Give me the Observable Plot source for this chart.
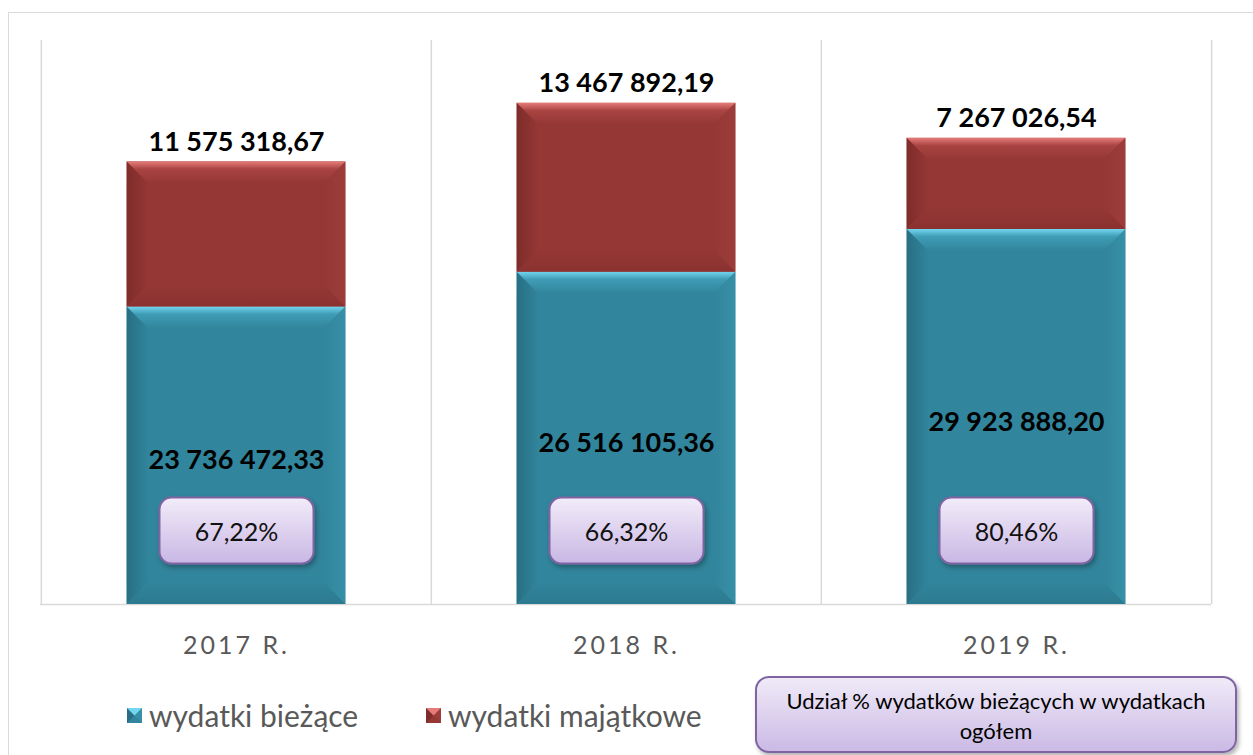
<!DOCTYPE html>
<html>
<head>
<meta charset="utf-8">
<script src="https://cdn.jsdelivr.net/npm/d3@7"></script>
<script src="https://cdn.jsdelivr.net/npm/@observablehq/plot@0.6"></script>
<style>
  body { margin: 0; background: #fff; font-family: Lato, "Open Sans", sans-serif; }
  #wrap { position: relative; width: 1253px; height: 755px; overflow: hidden; background: #fff; }
  #chart { position: absolute; left: 0; top: 0; }
  #frame { position: absolute; left: 8px; top: 12px; right: -10px; bottom: -10px;
           border-left: 1.5px solid #d9d9d9; border-top: 1.5px solid #d9d9d9; pointer-events: none; }
  .item { position: absolute; top: 699px; height: 32px; display: flex; align-items: center;
          gap: 7px; font-size: 30px; font-weight: 400; color: #595959; white-space: nowrap; }
  #note { position: absolute; left: 755px; top: 676px; width: 482px; height: 77px; box-sizing: border-box;
          border: 2px solid #8064a2; border-radius: 14px;
          background: linear-gradient(#f0eaf8, #cbbae5);
          box-shadow: 2px 3px 4px rgba(0,0,0,0.3);
          text-align: center; font-size: 22px; font-weight: 400; line-height: 30px; padding-top: 8px; color: #000; }
</style>
</head>
<body>
<div id="wrap">
  <div id="chart"></div>
  <div id="legend"></div>
  <div id="note">Udział % wydatków bieżących w wydatkach<br>ogółem</div>
  <div id="frame"></div>
</div>
<script>
// ---- data ----
const years = ["2017 R.", "2018 R.", "2019 R."];
const biezace = [23736472.33, 26516105.36, 29923888.20];
const majatkowe = [11575318.67, 13467892.19, 7267026.54];
const udzial = ["67,22%", "66,32%", "80,46%"];
const seriesNames = ["wydatki bieżące", "wydatki majątkowe"];
const seriesColors = ["#31859c", "#953735"];

const rows = [];
years.forEach((y, i) => {
  rows.push({year: y, series: seriesNames[0], value: biezace[i]});
  rows.push({year: y, series: seriesNames[1], value: majatkowe[i]});
});
const totals = years.map((y, i) => ({
  year: y, total: biezace[i] + majatkowe[i], mid: biezace[i] / 2,
  b: biezace[i], m: majatkowe[i], pct: udzial[i]
}));

const fmt = d3.formatLocale({decimal: ",", thousands: " ", grouping: [3], currency: ["", ""]}).format(",.2f");

const W = 1253, H = 680, mL = 40, mR = 42, mT = 40, mB = 76;
const bw = (W - mL - mR) / years.length;
const barW = 219;
const inset = (bw - barW) / 2;

const plot = Plot.plot({
  width: W, height: H,
  marginLeft: mL, marginRight: mR, marginTop: mT, marginBottom: mB,
  style: {background: "transparent", fontFamily: "Lato, 'Open Sans', sans-serif", overflow: "visible"},
  x: {type: "band", domain: years, padding: 0, label: null},
  y: {domain: [0, 45e6], axis: null},
  color: {domain: seriesNames, range: seriesColors},
  marks: [
    Plot.ruleX(years, {x: d => d, dx: -bw / 2, stroke: "#d9d9d9", strokeWidth: 1.5}),
    Plot.ruleX([years[years.length - 1]], {x: d => d, dx: bw / 2, stroke: "#d9d9d9", strokeWidth: 1.5}),
    Plot.ruleY([0], {stroke: "#d9d9d9", strokeWidth: 1.5}),
    Plot.barY(rows, {x: "year", y: "value", fill: "series", insetLeft: inset, insetRight: inset}),
    Plot.axisX({tickSize: 0, tickPadding: 32, fontSize: 25, color: "#595959", label: null}),
    Plot.text(totals, {x: "year", y: "total", text: d => fmt(d.m), dy: -20, fontSize: 27, fontWeight: "bold", fill: "#000"}),
    Plot.text(totals, {x: "year", y: "mid", text: d => fmt(d.b), dy: 5, fontSize: 27, fontWeight: "bold", fill: "#000"}),
    Plot.text(totals, {x: "year", y: 0, dy: -72, text: "pct", fontSize: 25, fill: "#111"})
  ]
});

document.getElementById("chart").appendChild(plot);
const svg = d3.select(plot);

// letter spacing on category labels
svg.selectAll('g[aria-label^="x-axis"]').style("letter-spacing", "3px");

// defs: gradients & shadow
const defs = svg.insert("defs", ":first-child");
function lin(id, stops, horizontal) {
  const g = defs.append("linearGradient").attr("id", id)
    .attr("x1", 0).attr("y1", 0).attr("x2", horizontal ? 1 : 0).attr("y2", horizontal ? 0 : 1);
  stops.forEach(([o, c]) => g.append("stop").attr("offset", o).attr("stop-color", c));
}
const pal = {
  r: {base: "#953735", topL: "#e67b79", topM: "#a84442", left: "#7e2c2b", right: "#9c3d3b", bot: "#8a3230"},
  b: {base: "#31859c", topL: "#74d6f0", topM: "#3f9cb5", left: "#286f83", right: "#3790a7", bot: "#2c7a8f"}
};
for (const k in pal) {
  const p = pal[k];
  lin("top-" + k, [[0, p.topL], [0.35, p.topM], [1, p.base]], false);
  lin("bot-" + k, [[0, p.base], [1, p.bot]], false);
  lin("left-" + k, [[0, p.left], [1, p.base]], true);
  lin("right-" + k, [[0, p.base], [1, p.right]], true);
}
lin("boxGrad", [[0, "#f2ecf9"], [1, "#c9b7e4"]], false);
const f = defs.append("filter").attr("id", "shadow").attr("x", "-20%").attr("y", "-20%").attr("width", "150%").attr("height", "170%");
f.append("feDropShadow").attr("dx", 2).attr("dy", 3).attr("stdDeviation", 2.5).attr("flood-color", "#000").attr("flood-opacity", 0.3);

// bevel decoration derived from the bar mark geometry
const colorSet = new Set(seriesColors);
const barRects = svg.selectAll("rect").filter(function () {
  return colorSet.has((this.getAttribute("fill") || "").toLowerCase());
});
const barG = barRects.size() ? barRects.node().parentNode : null;
if (barG) {
  const bev = d3.create("svg:g");
  barG.parentNode.insertBefore(bev.node(), barG.nextSibling);
  barRects.each(function () {
    const x = +this.getAttribute("x"), y = +this.getAttribute("y");
    const w = +this.getAttribute("width"), h = +this.getAttribute("height");
    const k = this.getAttribute("fill").toLowerCase() === seriesColors[0] ? "b" : "r";
    const b = Math.min(22, h / 2, w / 2);
    const polys = [
      ["left", [[x, y], [x + b, y + b], [x + b, y + h - b], [x, y + h]]],
      ["right", [[x + w, y], [x + w - b, y + b], [x + w - b, y + h - b], [x + w, y + h]]],
      ["bot", [[x, y + h], [x + w, y + h], [x + w - b, y + h - b], [x + b, y + h - b]]],
      ["top", [[x, y], [x + w, y], [x + w - b, y + b], [x + b, y + b]]]
    ];
    polys.forEach(([n, pts]) => bev.append("polygon")
      .attr("points", pts.map(p => p.join(",")).join(" "))
      .attr("fill", `url(#${n}-${k})`));
  });
}

// rounded boxes behind percentage labels
const svgRect = plot.getBoundingClientRect();
const pctTexts = svg.selectAll("text").filter(function () { return udzial.includes(this.textContent); });
if (pctTexts.size()) {
  const pctG = pctTexts.node().parentNode;
  const boxG = d3.create("svg:g");
  pctG.parentNode.insertBefore(boxG.node(), pctG);
  pctTexts.each(function () {
    const r = this.getBoundingClientRect();
    const cx = (r.left + r.right) / 2 - svgRect.left;
    const cy = (r.top + r.bottom) / 2 - svgRect.top;
    boxG.append("rect")
      .attr("x", cx - 77).attr("y", cy - 33).attr("width", 154).attr("height", 66)
      .attr("rx", 12).attr("fill", "url(#boxGrad)")
      .attr("stroke", "#8064a2").attr("stroke-width", 2).attr("filter", "url(#shadow)");
  });
}

// legend
const legend = document.getElementById("legend");
const legendLeft = [127, 426];
const iconPal = [pal.b, pal.r];
seriesNames.forEach((name, i) => {
  const p = iconPal[i];
  const item = document.createElement("div");
  item.className = "item";
  item.style.left = legendLeft[i] + "px";
  item.innerHTML = `<svg width="15" height="15" style="flex:none">
      <rect width="15" height="15" fill="${p.base}"/>
      <polygon points="0,0 7.5,7.5 0,15" fill="${p.left}"/>
      <polygon points="15,0 7.5,7.5 15,15" fill="${p.right}"/>
      <polygon points="0,0 15,0 7.5,7.5" fill="${p.topL}"/>
    </svg><span>${name}</span>`;
  legend.appendChild(item);
});
</script>
</body>
</html>
